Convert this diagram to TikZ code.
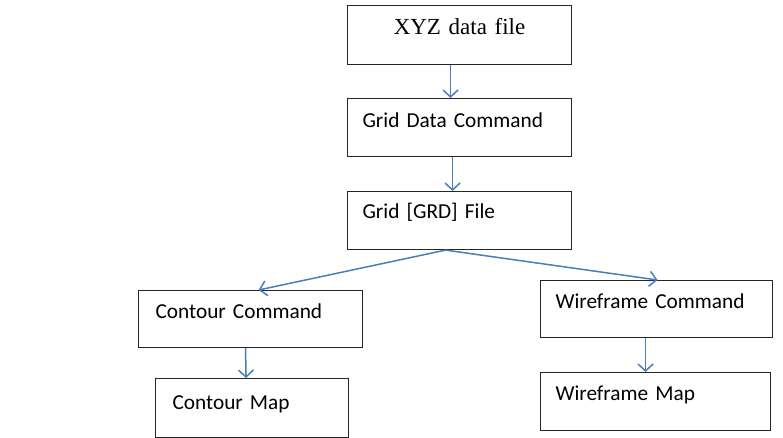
\documentclass[tikz,border=0pt]{standalone}
\usepackage{fontspec}
\usetikzlibrary{arrows.meta}
\newfontfamily\calib{Carlito}
\newfontfamily\tms{Liberation Serif}
\definecolor{flowblue}{RGB}{74,126,187}
\tikzset{
  box/.style={draw=black!85, line width=1.1pt, anchor=north west, inner xsep=15pt, inner ysep=0pt,
    align=left, text height=28pt, font=\calib\fontsize{21.3}{25}\selectfont},
  flow/.style={draw=flowblue, line width=1.5pt, -{Straight Barb[length=7pt,width=15pt,line width=1.5pt]}}
}
\begin{document}
\begin{tikzpicture}[x=1pt,y=-1pt]
			\useasboundingbox (0,0) rectangle (783,438);
			% Nodes
			\node[box, align=center, text width=194pt, text depth=30pt, font=\tms\fontsize{23}{26}\selectfont, text height=29pt] (xyz) at (347,5) {XYZ data file};
			\node[box, text width=194pt, text depth=29pt, text height=29pt] (gridcmd) at (347,98) {Grid Data Command};
			\node[box, text width=194pt, text depth=31pt, text height=27pt] (grdfile) at (347,191) {Grid [GRD] File};

			\node[box, text width=190pt, inner xsep=17pt, text depth=29pt] (contcmd) at (138,290) {Contour Command};
			\node[box, text width=159pt, inner xsep=17pt, text depth=28pt, text height=31pt] (contmap) at (155,378) {Contour Map};

			\node[box, text width=202pt, text depth=29pt] (wirecmd) at (540,280) {Wireframe Command};
			\node[box, text width=200pt, inner xsep=15pt, text depth=30pt] (wiremap) at (540,372) {Wireframe Map};

			% Arrows
			\draw[flow] ([xshift=-9pt]xyz.south) -- ([xshift=-9pt]gridcmd.north);
			\draw[flow] ([xshift=-7pt]gridcmd.south) -- ([xshift=-7pt]grdfile.north);

			\draw[flow] ([xshift=-14pt]grdfile.south) -- ([xshift=8pt]contcmd.north);
			\draw[flow] ([xshift=-14pt]grdfile.south) -- ([xshift=1pt]wirecmd.north);

			\draw[flow] ([xshift=-5pt]contcmd.south) -- ([xshift=-6pt]contmap.north);
			\draw[flow] ([xshift=-11pt]wirecmd.south) -- ([xshift=-10pt]wiremap.north);
\end{tikzpicture}
\end{document}
